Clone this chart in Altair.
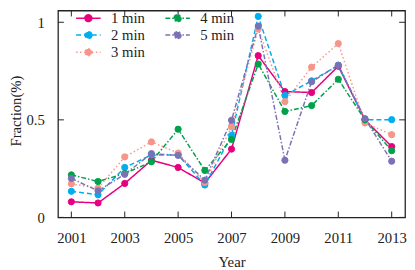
import altair as alt
import pandas as pd

years = list(range(2001, 2014))
series_names = ["1 min", "2 min", "3 min", "4 min", "5 min"]
v1 = [0.080, 0.074, 0.174, 0.293, 0.256, 0.176, 0.350, 0.829, 0.645, 0.640, 0.775, 0.500, 0.363]
v2 = [0.134, 0.116, 0.256, 0.320, 0.320, 0.166, 0.420, 1.030, 0.625, 0.700, 0.780, 0.500, 0.501]
v3 = [0.172, 0.150, 0.310, 0.387, 0.330, 0.179, 0.464, 0.966, 0.593, 0.770, 0.891, 0.484, 0.424]
v4 = [0.218, 0.184, 0.225, 0.285, 0.452, 0.241, 0.400, 0.786, 0.543, 0.573, 0.708, 0.500, 0.342]
v5 = [0.200, 0.136, 0.221, 0.327, 0.318, 0.191, 0.498, 0.980, 0.293, 0.695, 0.780, 0.506, 0.288]
values = [v1, v2, v3, v4, v5]

x_tick_years = [2001, 2003, 2005, 2007, 2009, 2011, 2013]
y_tick_values = [0, 0.5, 1]

legend_order = series_names
color_map = {"1 min": "#e6007e", "2 min": "#00aeef", "3 min": "#f7958a",
             "4 min": "#00a14b", "5 min": "#7a72b5"}
dash_map = {"1 min": [1, 0], "2 min": [5, 3], "3 min": [1.5, 2.5],
            "4 min": [5, 2, 1.5, 2], "5 min": [5, 2, 1.5, 2]}

rows = []
for name, vals in zip(series_names, values):
    for yr, v in zip(years, vals):
        rows.append({"year": yr, "value": v, "series": name})
df = pd.DataFrame(rows)

W, H = 354, 211
FONT = "'Liberation Serif', 'Times New Roman', 'DejaVu Serif', serif"
INK = "#222222"

xscale = alt.Scale(domain=[2000.5, 2013.5], nice=False, zero=False)
yscale = alt.Scale(domain=[0, 1.06], nice=False, zero=False)

color_range = [color_map[s] for s in legend_order]
color_scale = alt.Scale(domain=legend_order, range=color_range)
stroke_scale = alt.Scale(domain=legend_order, range=color_range)
dash_scale = alt.Scale(domain=legend_order, range=[dash_map[s] for s in legend_order])

sym_path = "M-2.5,0L2.5,0M0.7,0A0.7,0.7,0,1,1,-0.7,0A0.7,0.7,0,1,1,0.7,0Z"

legend = alt.Legend(
    title=None, orient="none", legendX=23.5, legendY=0, columns=2,
    direction="vertical",
    symbolType=sym_path, symbolSize=100, symbolStrokeWidth=1.5,
    labelFont=FONT, labelFontSize=15, labelColor=INK, labelOffset=15.5,
    columnPadding=17, rowPadding=1.5, padding=0, symbolOpacity=1,
)

x_axis = alt.Axis(values=x_tick_years, format="d", grid=False, domain=False,
                  ticks=False, tickSize=0, labelFont=FONT, labelFontSize=15,
                  labelColor=INK, labelBaseline="alphabetic", labelPadding=26,
                  labelFlush=False, labelOverlap=False,
                  title="Year", titleFont=FONT, titleFontSize=15,
                  titleFontWeight="normal", titleColor=INK,
                  titleBaseline="alphabetic", titleY=50)
y_axis = alt.Axis(values=y_tick_values, format="~g", grid=False, domain=False,
                  ticks=False, tickSize=0, labelFont=FONT, labelFontSize=15,
                  labelColor=INK, labelPadding=14, labelFlush=False,
                  labelOverlap=False,
                  title="Fraction(%)", titleFont=FONT, titleFontSize=15,
                  titleFontWeight="normal", titleColor=INK,
                  titleX=-35, titleY=102)

X = alt.X("year:Q", scale=xscale, axis=x_axis)
Y = alt.Y("value:Q", scale=yscale, axis=y_axis)

base = alt.Chart(df)
lines = base.mark_line(strokeWidth=1.5).encode(
    x=X, y=Y,
    color=alt.Color("series:N", scale=color_scale, legend=legend),
    strokeDash=alt.StrokeDash("series:N", scale=dash_scale, legend=legend),
    detail="series:N",
)
points = base.mark_point(filled=True, size=40, strokeWidth=1, opacity=1).encode(
    x=X, y=Y,
    color=alt.Color("series:N", scale=color_scale, legend=legend),
    stroke=alt.Stroke("series:N", scale=stroke_scale, legend=legend),
)

xt = pd.DataFrame({"year": x_tick_years})
yt = pd.DataFrame({"value": y_tick_values})
tick_style = dict(color=INK, strokeWidth=1)
tick_len = 6
bottom_ticks = alt.Chart(xt).mark_rule(**tick_style).encode(
    x=X, y=alt.value(H), y2=alt.value(H - tick_len))
top_ticks = alt.Chart(xt).mark_rule(**tick_style).encode(
    x=X, y=alt.value(0), y2=alt.value(tick_len))
left_ticks = alt.Chart(yt).mark_rule(**tick_style).encode(
    y=Y, x=alt.value(0), x2=alt.value(tick_len))
right_ticks = alt.Chart(yt).mark_rule(**tick_style).encode(
    y=Y, x=alt.value(W), x2=alt.value(W - tick_len))

chart = alt.layer(
    bottom_ticks, top_ticks, left_ticks, right_ticks, lines, points
).properties(
    width=W, height=H,
    autosize=alt.AutoSizeParams(type="none"),
    padding={"left": 51, "top": 0, "right": 2, "bottom": 50},
).configure_view(stroke=INK, strokeWidth=1.3)

chart.save("out.html", embed_options={"renderer": "svg", "actions": False})
